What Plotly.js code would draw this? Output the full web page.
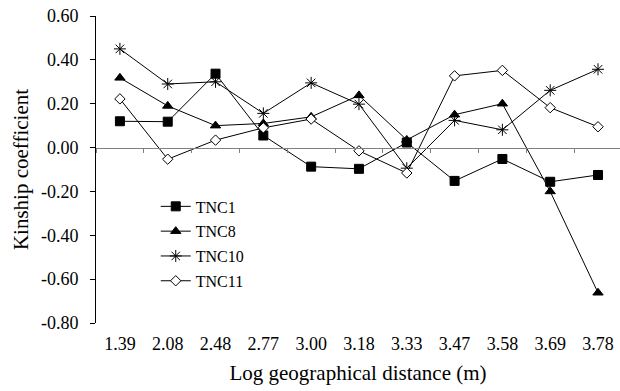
<!DOCTYPE html>
<html>
<head>
<meta charset="utf-8">
<script src="https://cdn.plot.ly/plotly-3.0.1.min.js"></script>
<style>html,body{margin:0;padding:0;background:#fff;}#chart{width:620px;height:391px;}</style>
</head>
<body>
<div id="chart"></div>
<script>
const distances = ['1.39','2.08','2.48','2.77','3.00','3.18','3.33','3.47','3.58','3.69','3.78'];
const tnc1  = [0.12, 0.118, 0.337, 0.055, -0.087, -0.097, 0.023, -0.152, -0.052, -0.156, -0.125];
const tnc8  = [0.318, 0.19, 0.10, 0.11, 0.14, 0.238, 0.035, 0.15, 0.20, -0.20, -0.662];
const tnc10 = [0.45, 0.29, 0.30, 0.156, 0.295, 0.198, -0.094, 0.124, 0.081, 0.261, 0.357];
const tnc11 = [0.222, -0.053, 0.034, 0.09, 0.13, -0.015, -0.116, 0.327, 0.352, 0.182, 0.095];
const yTickVals = [0.6, 0.4, 0.2, 0, -0.2, -0.4, -0.6, -0.8];
const yTickText = ['0.60','0.40','0.20','0.00','-0.20','-0.40','-0.60','-0.80'];

const serif = "'Liberation Serif', 'Times New Roman', serif";
function tr(name, y, symbol, size, fill, xa, grp) {
  return {
    x: distances, y: y, name: name, type: 'scatter', mode: 'lines+markers',
    xaxis: xa, yaxis: 'y', legendgroup: grp,
    line: {color: '#000', width: 1},
    marker: {symbol: symbol, size: size, color: fill, line: {color: '#000', width: 1}}
  };
}
const data = [
  tr('TNC1', tnc1, 'square', 9, '#000', 'x', 'g1'),
  tr('TNC8', tnc8, 'triangle-up', 9, '#000', 'x', 'g2'),
  tr('TNC10', tnc10, 'asterisk-open', 10, '#000', 'x2', 'g3'),
  tr('TNC11', tnc11, 'diamond', 8, '#fff', 'x2', 'g4')
];
const layout = {
  width: 620, height: 391,
  margin: {l: 96, r: 0, t: 16, b: 68},
  paper_bgcolor: '#fff', plot_bgcolor: '#fff',
  font: {family: serif, size: 17, color: '#000'},
  showlegend: true,
  legend: {x: 0.114, xanchor: 'left', y: 0.435, yanchor: 'top', bgcolor: 'rgba(0,0,0,0)',
           font: {family: serif, size: 16, color: '#000'}, traceorder: 'grouped', tracegroupgap: 1},
  xaxis: {
    type: 'category', categoryarray: distances, range: [-0.5, 10.46],
    showline: false, showgrid: false, zeroline: false,
    ticks: 'outside', ticklen: 4, tickcolor: 'rgba(0,0,0,0)',
    tickfont: {family: serif, size: 18, color: '#000'},
    title: {text: 'Log geographical distance (m)', font: {family: serif, size: 21, color: '#000'}, standoff: 12}
  },
  xaxis2: {
    type: 'category', categoryarray: distances, matches: 'x',
    overlaying: 'x', anchor: 'free', position: 0.8/1.4,
    showline: true, linecolor: '#808080', linewidth: 1, showgrid: false, zeroline: false,
    ticks: 'outside', ticklen: 4, tickcolor: '#808080', tickson: 'boundaries',
    showticklabels: false
  },
  yaxis: {
    range: [-0.8, 0.6], showline: true, linecolor: '#000', linewidth: 1,
    showgrid: false, zeroline: false,
    ticks: 'outside', ticklen: 5, tickcolor: '#000',
    tickvals: yTickVals, ticktext: yTickText, ticklabelstandoff: 8,
    tickfont: {family: serif, size: 18, color: '#000'},
    title: {text: 'Kinship coefficient', font: {family: serif, size: 21, color: '#000'}, standoff: 6}
  }
};
Plotly.newPlot('chart', data, layout, {displayModeBar: false, staticPlot: true});
</script>
</body>
</html>
